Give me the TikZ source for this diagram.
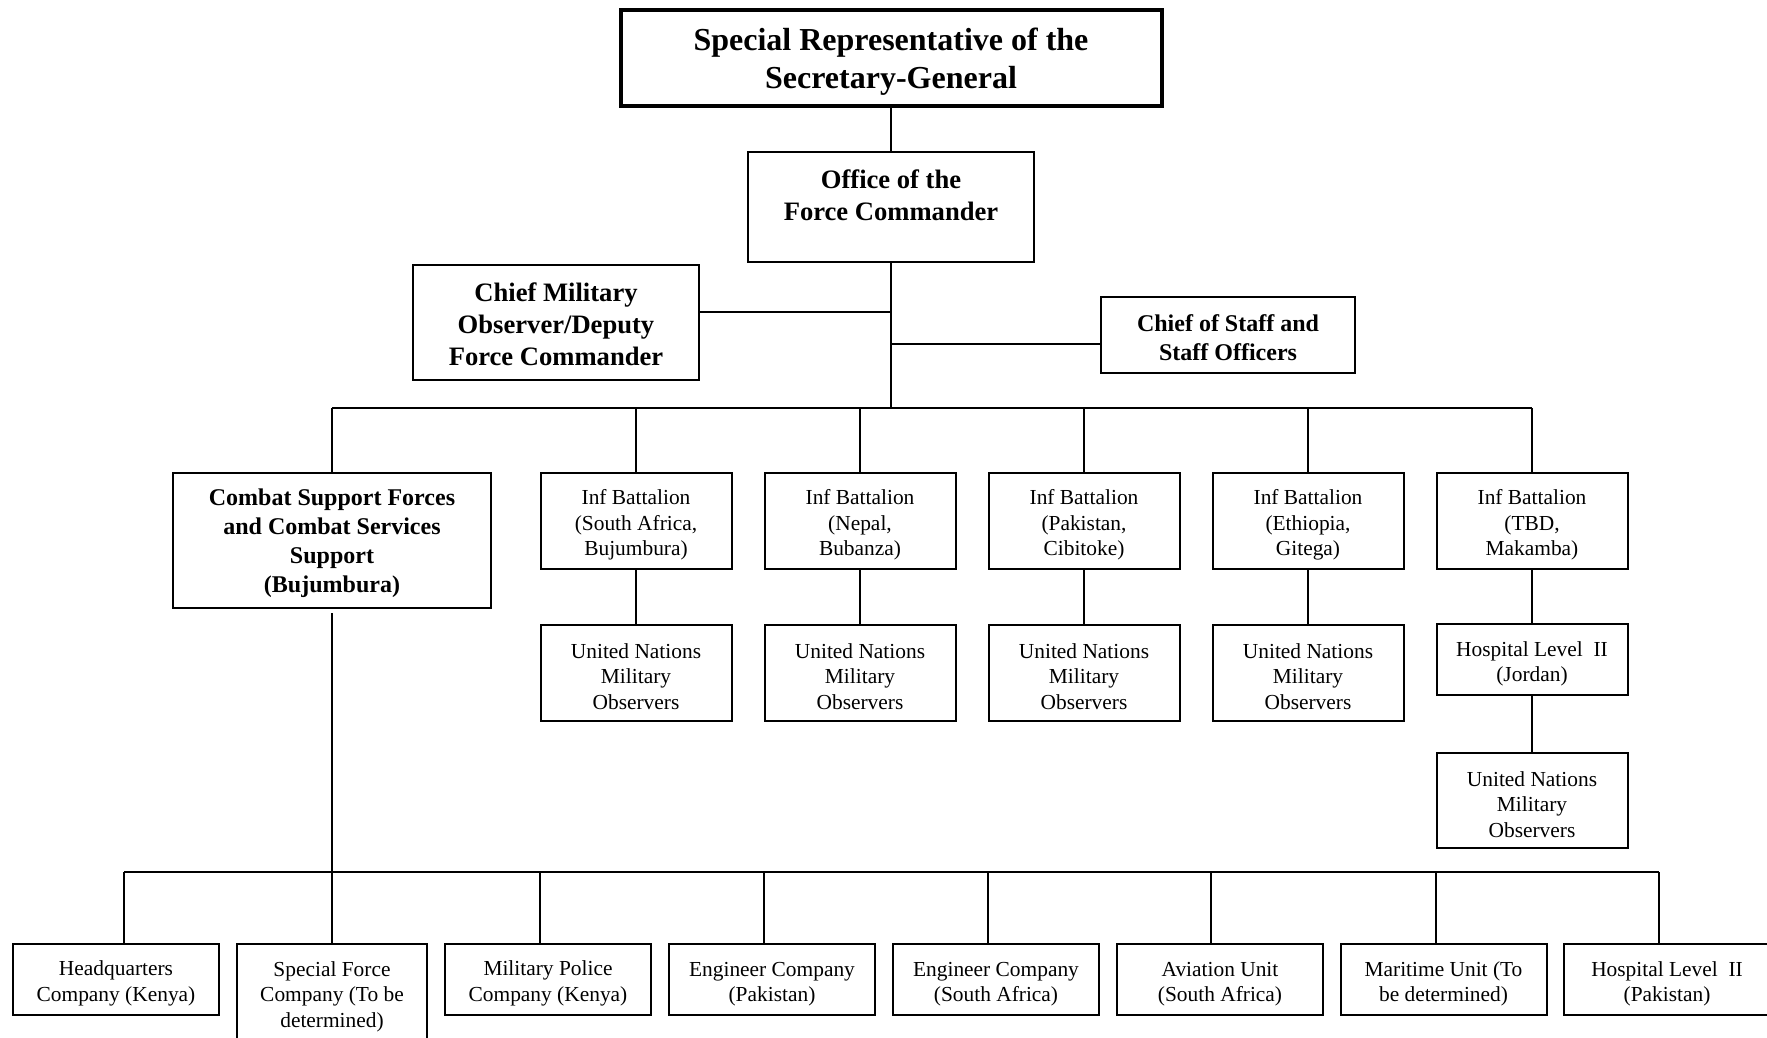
\documentclass[tikz,border=0pt]{standalone}
\usepackage{fontspec}
\setmainfont{Liberation Serif}
\usetikzlibrary{positioning}
\newcommand{\lifted}{\rule{0pt}{\dimexpr0.69em+\lift\relax}}

\begin{document}
\begin{tikzpicture}[x=0.5pt,y=-0.5pt,
  every node/.style={align=center,inner sep=0pt},
  link/.style={line width=1pt},
  topbox/.style={draw,line width=2pt,minimum width=270.5pt,minimum height=48pt,
    font=\bfseries\fontsize{16}{19}\selectfont,
    execute at begin node={\def\lift{4.4pt}}},
  headbox/.style={draw,line width=1pt,font=\bfseries\fontsize{13.3}{16}\selectfont,
    execute at begin node={\def\lift{2.3pt}}},
  subbox/.style={draw,line width=1pt,font=\bfseries\fontsize{12}{14.4}\selectfont,
    execute at begin node={\def\lift{2.6pt}}},
  unitbox/.style={draw,line width=1pt,minimum width=95.5pt,minimum height=48pt,
    font=\fontsize{10.7}{12.8}\selectfont,
    execute at begin node={\def\lift{4.2pt}}},
  coybox/.style={draw,line width=1pt,minimum width=103pt,minimum height=35.5pt,
    font=\fontsize{10.7}{12.8}\selectfont,
    execute at begin node={\def\lift{4.2pt}}}]
\useasboundingbox (0,0) rectangle (1767,1038);
% command levels
\node[topbox] (srsg) at (891,58) {\lifted Special Representative of the\\Secretary-General};
\node[headbox,minimum width=143pt,minimum height=54.5pt] (ofc) at (891,207)
  {\lifted Office of the\\Force Commander\\[-2pt]\mbox{}};
\node[headbox,minimum width=143pt,minimum height=57.5pt] (cmo) at (556,322.5)
  {\lifted Chief Military\\Observer/Deputy\\Force Commander};
\node[subbox,minimum width=127pt,minimum height=38pt] (cos) at (1228,335)
  {\lifted Chief of Staff and\\Staff Officers};
\coordinate (j1) at (891,312);
\coordinate (j2) at (891,344);
\coordinate (bus) at (891,408);
% sectors and battalions
\node[subbox,minimum width=159pt,minimum height=67.5pt] (css) at (332,540.5)
  {\lifted Combat Support Forces\\and Combat Services\\Support\\(Bujumbura)};
\node[unitbox] (inf1) at (636,521) {\lifted Inf Battalion\\(South Africa,\\Bujumbura)};
\node[unitbox] (inf2) at (860,521) {\lifted Inf Battalion\\(Nepal,\\Bubanza)};
\node[unitbox] (inf3) at (1084,521) {\lifted Inf Battalion\\(Pakistan,\\Cibitoke)};
\node[unitbox] (inf4) at (1308,521) {\lifted Inf Battalion\\(Ethiopia,\\Gitega)};
\node[unitbox] (inf5) at (1532,521) {\lifted Inf Battalion\\(TBD,\\Makamba)};
\foreach \i/\x in {1/636,2/860,3/1084,4/1308}
  \node[unitbox] (unmo\i) at (\x,672.5) {\lifted United Nations\\Military\\Observers};
\node[unitbox,minimum height=35.5pt] (hospj) at (1532,659.5) {\lifted Hospital Level~~II\\(Jordan)};
\node[unitbox,minimum height=47.5pt] (unmo5) at (1532,800.5) {\lifted United Nations\\Military\\Observers};
% combat support units
\coordinate (lbL) at (124,872);
\coordinate (lbR) at (1659,872);
\node[coybox] (hq) at (116,979.5) {\lifted Headquarters\\Company (Kenya)};
\node[coybox,minimum width=95pt,minimum height=48.5pt] (sf) at (332,992.5)
  {\lifted Special Force\\Company (To be\\determined)};
\node[coybox] (mp) at (548,979.5) {\lifted Military Police\\Company (Kenya)};
\node[coybox] (ep) at (772,979.5) {\lifted Engineer Company\\(Pakistan)};
\node[coybox] (es) at (996,979.5) {\lifted Engineer Company\\(South Africa)};
\node[coybox] (av) at (1220,979.5) {\lifted Aviation Unit\\(South Africa)};
\node[coybox] (mu) at (1443.5,979.5) {\lifted Maritime Unit (To\\be determined)};
\node[coybox] (hp) at (1667,979.5) {\lifted Hospital Level~~II\\(Pakistan)};
% connectors
\draw[link] (srsg.south) -- (ofc.north);
\draw[link] (ofc.south) -- (bus);
\draw[link] (j1) -- (j1 -| cmo.east);
\draw[link] (j2) -- (j2 -| cos.west);
\draw[link] (bus -| css.north) -- (bus -| inf5.north);
\draw[link] (css.north) -- (bus -| css.north);
\foreach \i in {1,...,5}
  \draw[link] (inf\i.north) -- (bus -| inf\i.north);
\foreach \i in {1,...,4}
  \draw[link] (inf\i.south) -- (unmo\i.north);
\draw[link] (inf5.south) -- (hospj.north);
\draw[link] (hospj.south) -- (unmo5.north);
\draw[link,shorten <=2pt] (css.south) -- (lbL -| css.south);
\draw[link] (lbL) -- (lbR);
\foreach \n/\x in {hq/124,sf/332,mp/540,ep/764,es/988,av/1211,mu/1436,hp/1659}
  \draw[link] (\x,872) -- (\n.north -| \x,872);
\end{tikzpicture}
\end{document}
